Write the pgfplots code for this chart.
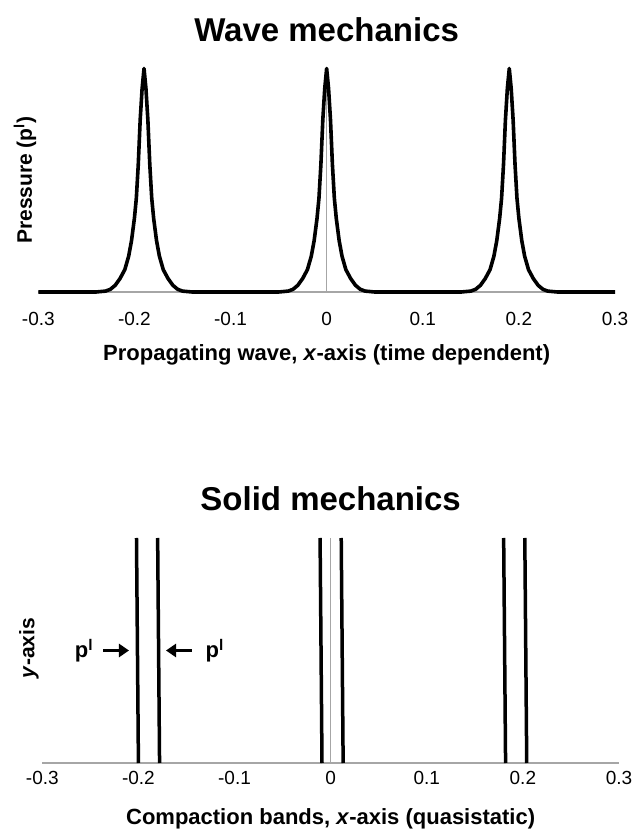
\documentclass[border=0pt]{standalone}
\usepackage{fontspec}
\setmainfont{Liberation Sans}
\usepackage{pgfplots}
\pgfplotsset{compat=1.18}
\usetikzlibrary{arrows.meta}
\definecolor{axgray}{HTML}{A6A6A6}
\pgfplotsset{
  mystyle/.style={
    scale only axis, width=576.7bp,
    xmin=-0.3, xmax=0.3, ymin=0, ymax=1, enlargelimits=false,
    axis lines=middle, axis line style={draw=axgray, line width=1.5bp, -},
    xtick={-0.3,-0.2,-0.1,0,0.1,0.2,0.3},
    xticklabels={-0.3,-0.2,-0.1,0,0.1,0.2,0.3},
    ytick=\empty, major tick length=0pt, hide obscured x ticks=false,
    xticklabel style={font=\fontsize{19bp}{22bp}\selectfont, anchor=base},
    clip=false,
    title style={font=\bfseries\fontsize{33bp}{37bp}\selectfont, at={(axis description cs:0.5,1)}, anchor=base},
    xlabel style={font=\bfseries\fontsize{22bp}{26bp}\selectfont, at={(axis description cs:0.5,0)}, anchor=base},
    ylabel style={font=\bfseries\fontsize{21bp}{25bp}\selectfont, at={(axis description cs:-0.023,0.5)}, rotate=90, anchor=center},
  }
}
\begin{document}
\begin{tikzpicture}
\useasboundingbox (0bp,0bp) rectangle (632bp,832bp);
% ---------- Wave mechanics ----------
\begin{axis}[mystyle,
  at={(38.3bp,540bp)}, anchor=south west, height=223.5bp,
  xticklabel style={yshift=-34bp},
  title={Wave mechanics}, title style={yshift=21bp},
  xlabel={Propagating wave, \textit{x}-axis (time dependent)}, xlabel style={yshift=-69bp},
  ylabel={Pressure (p\textsuperscript{l})},
]
\addplot[black, line width=3.6bp, line join=round] coordinates {
(-0.3,0) (-0.24,0) (-0.23,0.004) (-0.225,0.012) (-0.22,0.03) (-0.215,0.06) (-0.21,0.10)
(-0.206,0.16) (-0.203,0.23) (-0.20,0.33) (-0.198,0.42) (-0.196,0.57) (-0.194,0.77) (-0.192,0.91)
(-0.19,1) (-0.188,0.91) (-0.186,0.77) (-0.184,0.57) (-0.182,0.42) (-0.18,0.33) (-0.177,0.23)
(-0.174,0.16) (-0.17,0.10) (-0.165,0.06) (-0.16,0.03) (-0.155,0.012) (-0.15,0.004) (-0.14,0)
(-0.05,0) (-0.04,0.004) (-0.035,0.012) (-0.03,0.03) (-0.025,0.06) (-0.02,0.10)
(-0.016,0.16) (-0.013,0.23) (-0.01,0.33) (-0.008,0.42) (-0.006,0.57) (-0.004,0.77) (-0.002,0.91)
(0,1) (0.002,0.91) (0.004,0.77) (0.006,0.57) (0.008,0.42) (0.01,0.33) (0.013,0.23)
(0.016,0.16) (0.02,0.10) (0.025,0.06) (0.03,0.03) (0.035,0.012) (0.04,0.004) (0.05,0)
(0.14,0) (0.15,0.004) (0.155,0.012) (0.16,0.03) (0.165,0.06) (0.17,0.10)
(0.174,0.16) (0.177,0.23) (0.18,0.33) (0.182,0.42) (0.184,0.57) (0.186,0.77) (0.188,0.91)
(0.19,1) (0.192,0.91) (0.194,0.77) (0.196,0.57) (0.198,0.42) (0.2,0.33) (0.203,0.23)
(0.206,0.16) (0.21,0.10) (0.215,0.06) (0.22,0.03) (0.225,0.012) (0.23,0.004) (0.24,0) (0.3,0)
};
\end{axis}
% ---------- Solid mechanics ----------
\begin{axis}[mystyle,
  at={(42.3bp,69bp)}, anchor=south west, height=225bp,
  xticklabel style={yshift=-21.5bp},
  title={Solid mechanics}, title style={yshift=22bp},
  xlabel={Compaction bands, \textit{x}-axis (quasistatic)}, xlabel style={yshift=-61bp},
  ylabel={\textit{y}-axis}, ylabel style={at={(axis description cs:-0.023,0.511)}},
]
\addplot[black, line width=3.5bp] coordinates {(-0.200,0) (-0.202,1)};
\addplot[black, line width=3.5bp] coordinates {(-0.178,0) (-0.180,1)};
\addplot[black, line width=3.5bp] coordinates {(-0.009,0) (-0.011,1)};
\addplot[black, line width=3.5bp] coordinates {(0.013,0) (0.011,1)};
\addplot[black, line width=3.5bp] coordinates {(0.182,0) (0.180,1)};
\addplot[black, line width=3.5bp] coordinates {(0.204,0) (0.202,1)};
\addplot[black, line width=3.8bp, -{Triangle[length=10bp,width=13bp]}] coordinates {(-0.2365,0.5) (-0.2098,0.5)};
\addplot[black, line width=3.8bp, -{Triangle[length=10bp,width=13bp]}] coordinates {(-0.1446,0.5) (-0.1713,0.5)};
\node[font=\bfseries\fontsize{22bp}{26bp}\selectfont] at (axis cs:-0.2566,0.5) {p\textsuperscript{l}};
\node[font=\bfseries\fontsize{22bp}{26bp}\selectfont] at (axis cs:-0.1206,0.5) {p\textsuperscript{l}};
\end{axis}
\end{tikzpicture}
\end{document}
